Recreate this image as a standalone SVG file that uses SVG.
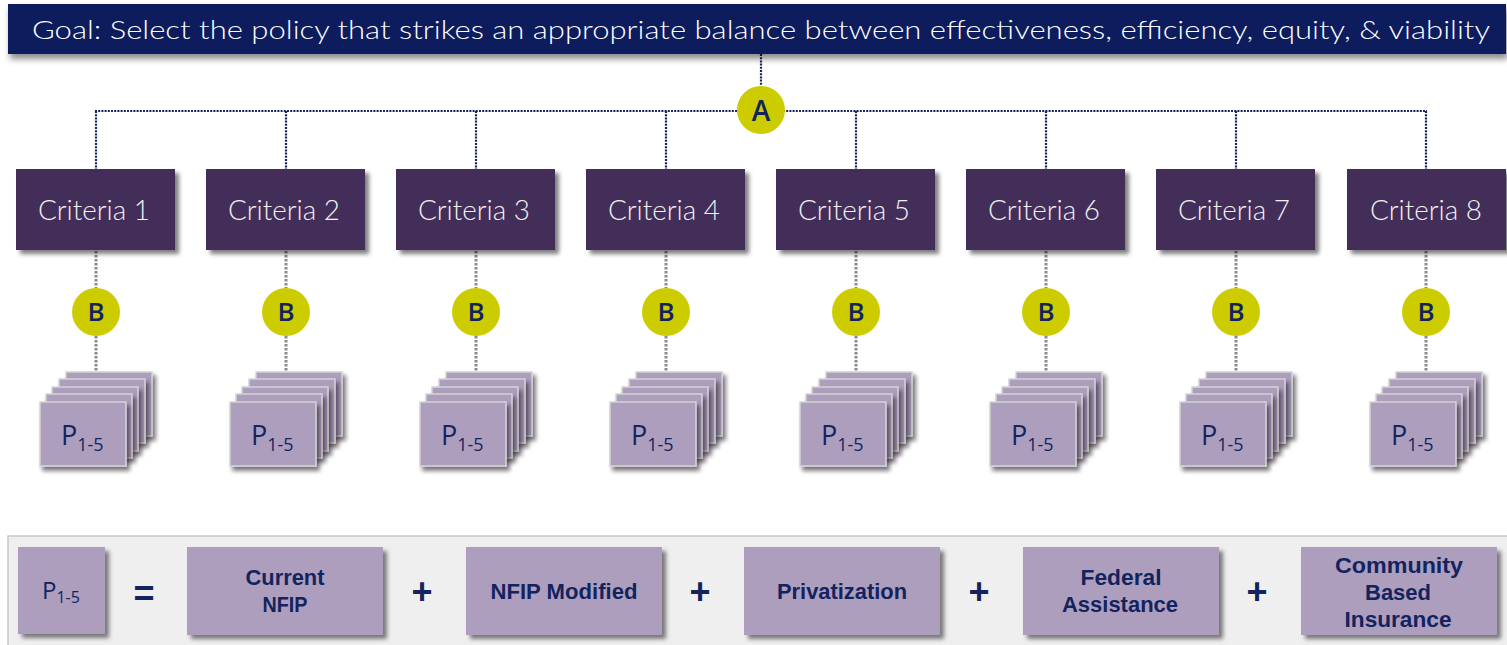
<svg xmlns="http://www.w3.org/2000/svg" width="1507" height="645" viewBox="0 0 1507 645">
  <defs>
    <filter id="shadow" x="-10%" y="-10%" width="130%" height="140%">
      <feDropShadow dx="4" dy="4" stdDeviation="2.2" flood-color="#000" flood-opacity="0.5"/>
    </filter>
    <filter id="shadowDown" x="-5%" y="-20%" width="110%" height="160%">
      <feDropShadow dx="2" dy="5" stdDeviation="3" flood-color="#000" flood-opacity="0.45"/>
    </filter>
    <filter id="cardShadow" x="-20%" y="-20%" width="150%" height="150%">
      <feDropShadow dx="3" dy="4" stdDeviation="2" flood-color="#1a1020" flood-opacity="0.6"/>
    </filter>
    <g id="card">
      <rect x="0" y="0" width="86" height="64" class="card" filter="url(#cardShadow)"/>
    </g>
  </defs>
  <style>
    .goal { fill: #0e1f5b; }
    .goaltxt { font-family: Lato, "Liberation Sans", Arial, sans-serif; font-weight: 300; font-size: 25px; fill: #ffffff; }
    .crit { fill: #432d58; }
    .crittxt { font-family: Lato, "Liberation Sans", Arial, sans-serif; font-weight: 300; font-size: 27px; fill: #f2f2f2; text-anchor: middle; }
    .dot { fill: #cccc00; }
    .dottxt { font-family: "Open Sans", "Liberation Sans", Arial, sans-serif; font-weight: 600; fill: #13235e; text-anchor: middle; }
    .card { fill: #ad9ebe; stroke: #d4d4d4; stroke-width: 1.5; }
    .ptxt { font-family: "Open Sans", "Liberation Sans", Arial, sans-serif; font-weight: 500; fill: #13235e; }
    .navyline { stroke: #13235e; stroke-width: 2.2; stroke-dasharray: 2 1.2; fill: none; }
    .grayline { stroke: #8a8a8a; stroke-width: 3; stroke-dasharray: 2.5 1.5; fill: none; }
    .panel { fill: #efefef; stroke: #c8c8c8; stroke-width: 1.5; }
    .opt { fill: #ad9ebe; }
    .opttxt { font-family: "Liberation Sans", Arial, sans-serif; font-weight: bold; font-size: 22px; fill: #13235e; text-anchor: middle; }
    .sym { font-family: "Liberation Sans", Arial, sans-serif; font-weight: bold; font-size: 36px; fill: #13235e; text-anchor: middle; }
  </style>

  <!-- connectors -->
  <g id="connectors">
    <line class="navyline" x1="761" y1="54" x2="761" y2="88"/>
    <line class="navyline" x1="95" y1="111" x2="1427" y2="111"/>
    <line class="navyline" x1="96" y1="111" x2="96" y2="169"/>
    <line class="navyline" x1="286" y1="111" x2="286" y2="169"/>
    <line class="navyline" x1="476" y1="111" x2="476" y2="169"/>
    <line class="navyline" x1="666" y1="111" x2="666" y2="169"/>
    <line class="navyline" x1="856" y1="111" x2="856" y2="169"/>
    <line class="navyline" x1="1046" y1="111" x2="1046" y2="169"/>
    <line class="navyline" x1="1236" y1="111" x2="1236" y2="169"/>
    <line class="navyline" x1="1426" y1="111" x2="1426" y2="169"/>
    <g id="gray-links">
      <path class="grayline" d="M96 251V288M96 336V371"/>
      <path class="grayline" d="M286 251V288M286 336V371"/>
      <path class="grayline" d="M476 251V288M476 336V371"/>
      <path class="grayline" d="M666 251V288M666 336V371"/>
      <path class="grayline" d="M856 251V288M856 336V371"/>
      <path class="grayline" d="M1046 251V288M1046 336V371"/>
      <path class="grayline" d="M1236 251V288M1236 336V371"/>
      <path class="grayline" d="M1426 251V288M1426 336V371"/>
    </g>
  </g>

  <!-- goal banner -->
  <g id="goal">
    <rect class="goal" x="8" y="4" width="1498" height="50" filter="url(#shadowDown)"/>
    <text class="goaltxt" x="32" y="39" textLength="1458" lengthAdjust="spacingAndGlyphs">Goal: Select the policy that strikes an appropriate balance between effectiveness, efficiency, equity, &amp; viability</text>
  </g>

  <!-- A junction -->
  <g id="node-A">
    <circle class="dot" cx="761" cy="110" r="24"/>
    <text class="dottxt" x="761" y="121" font-size="28">A</text>
  </g>

  <!-- criteria -->
  <g id="criteria-1"><rect class="crit" x="16" y="169" width="159" height="81" filter="url(#shadow)"/><text class="crittxt" x="94" y="220" textLength="112" lengthAdjust="spacingAndGlyphs">Criteria 1</text></g>
  <g id="criteria-2"><rect class="crit" x="206" y="169" width="159" height="81" filter="url(#shadow)"/><text class="crittxt" x="284" y="220" textLength="112" lengthAdjust="spacingAndGlyphs">Criteria 2</text></g>
  <g id="criteria-3"><rect class="crit" x="396" y="169" width="159" height="81" filter="url(#shadow)"/><text class="crittxt" x="474" y="220" textLength="112" lengthAdjust="spacingAndGlyphs">Criteria 3</text></g>
  <g id="criteria-4"><rect class="crit" x="586" y="169" width="159" height="81" filter="url(#shadow)"/><text class="crittxt" x="664" y="220" textLength="112" lengthAdjust="spacingAndGlyphs">Criteria 4</text></g>
  <g id="criteria-5"><rect class="crit" x="776" y="169" width="159" height="81" filter="url(#shadow)"/><text class="crittxt" x="854" y="220" textLength="112" lengthAdjust="spacingAndGlyphs">Criteria 5</text></g>
  <g id="criteria-6"><rect class="crit" x="966" y="169" width="159" height="81" filter="url(#shadow)"/><text class="crittxt" x="1044" y="220" textLength="112" lengthAdjust="spacingAndGlyphs">Criteria 6</text></g>
  <g id="criteria-7"><rect class="crit" x="1156" y="169" width="159" height="81" filter="url(#shadow)"/><text class="crittxt" x="1234" y="220" textLength="112" lengthAdjust="spacingAndGlyphs">Criteria 7</text></g>
  <g id="criteria-8"><rect class="crit" x="1347" y="169" width="159" height="81" filter="url(#shadow)"/><text class="crittxt" x="1426" y="220" textLength="112" lengthAdjust="spacingAndGlyphs">Criteria 8</text></g>

  <!-- B junctions -->
  <g id="node-B1"><circle class="dot" cx="96" cy="312" r="24"/><text class="dottxt" x="96" y="321" font-size="26">B</text></g>
  <g id="node-B2"><circle class="dot" cx="286" cy="312" r="24"/><text class="dottxt" x="286" y="321" font-size="26">B</text></g>
  <g id="node-B3"><circle class="dot" cx="476" cy="312" r="24"/><text class="dottxt" x="476" y="321" font-size="26">B</text></g>
  <g id="node-B4"><circle class="dot" cx="666" cy="312" r="24"/><text class="dottxt" x="666" y="321" font-size="26">B</text></g>
  <g id="node-B5"><circle class="dot" cx="856" cy="312" r="24"/><text class="dottxt" x="856" y="321" font-size="26">B</text></g>
  <g id="node-B6"><circle class="dot" cx="1046" cy="312" r="24"/><text class="dottxt" x="1046" y="321" font-size="26">B</text></g>
  <g id="node-B7"><circle class="dot" cx="1236" cy="312" r="24"/><text class="dottxt" x="1236" y="321" font-size="26">B</text></g>
  <g id="node-B8"><circle class="dot" cx="1426" cy="312" r="24"/><text class="dottxt" x="1426" y="321" font-size="26">B</text></g>

  <!-- policy stacks: five cards each, back to front -->
  <g id="policies-1" transform="translate(40 402)">
    <use href="#card" x="26" y="-30"/><use href="#card" x="19" y="-23"/><use href="#card" x="12" y="-15"/><use href="#card" x="6" y="-8"/><use href="#card" x="0" y="0"/>
    <text class="ptxt" x="21" y="43" font-size="27">P<tspan font-size="18" dy="6">1-5</tspan></text>
  </g>
  <g id="policies-2" transform="translate(230 402)">
    <use href="#card" x="26" y="-30"/><use href="#card" x="19" y="-23"/><use href="#card" x="12" y="-15"/><use href="#card" x="6" y="-8"/><use href="#card" x="0" y="0"/>
    <text class="ptxt" x="21" y="43" font-size="27">P<tspan font-size="18" dy="6">1-5</tspan></text>
  </g>
  <g id="policies-3" transform="translate(420 402)">
    <use href="#card" x="26" y="-30"/><use href="#card" x="19" y="-23"/><use href="#card" x="12" y="-15"/><use href="#card" x="6" y="-8"/><use href="#card" x="0" y="0"/>
    <text class="ptxt" x="21" y="43" font-size="27">P<tspan font-size="18" dy="6">1-5</tspan></text>
  </g>
  <g id="policies-4" transform="translate(610 402)">
    <use href="#card" x="26" y="-30"/><use href="#card" x="19" y="-23"/><use href="#card" x="12" y="-15"/><use href="#card" x="6" y="-8"/><use href="#card" x="0" y="0"/>
    <text class="ptxt" x="21" y="43" font-size="27">P<tspan font-size="18" dy="6">1-5</tspan></text>
  </g>
  <g id="policies-5" transform="translate(800 402)">
    <use href="#card" x="26" y="-30"/><use href="#card" x="19" y="-23"/><use href="#card" x="12" y="-15"/><use href="#card" x="6" y="-8"/><use href="#card" x="0" y="0"/>
    <text class="ptxt" x="21" y="43" font-size="27">P<tspan font-size="18" dy="6">1-5</tspan></text>
  </g>
  <g id="policies-6" transform="translate(990 402)">
    <use href="#card" x="26" y="-30"/><use href="#card" x="19" y="-23"/><use href="#card" x="12" y="-15"/><use href="#card" x="6" y="-8"/><use href="#card" x="0" y="0"/>
    <text class="ptxt" x="21" y="43" font-size="27">P<tspan font-size="18" dy="6">1-5</tspan></text>
  </g>
  <g id="policies-7" transform="translate(1180 402)">
    <use href="#card" x="26" y="-30"/><use href="#card" x="19" y="-23"/><use href="#card" x="12" y="-15"/><use href="#card" x="6" y="-8"/><use href="#card" x="0" y="0"/>
    <text class="ptxt" x="21" y="43" font-size="27">P<tspan font-size="18" dy="6">1-5</tspan></text>
  </g>
  <g id="policies-8" transform="translate(1370 402)">
    <use href="#card" x="26" y="-30"/><use href="#card" x="19" y="-23"/><use href="#card" x="12" y="-15"/><use href="#card" x="6" y="-8"/><use href="#card" x="0" y="0"/>
    <text class="ptxt" x="21" y="43" font-size="27">P<tspan font-size="18" dy="6">1-5</tspan></text>
  </g>

  <!-- legend: what P1-5 stands for -->
  <g id="legend">
    <rect class="panel" x="8" y="536" width="1505" height="115"/>
    <g id="legend-p">
      <rect class="opt" x="18" y="547" width="87" height="87" filter="url(#shadow)"/>
      <text class="ptxt" x="42" y="599" font-size="24">P<tspan font-size="16" dy="4">1-5</tspan></text>
    </g>
    <text class="sym" x="144" y="606">=</text>
    <g id="opt-current">
      <rect class="opt" x="187" y="547" width="196" height="88" filter="url(#shadow)"/>
      <text class="opttxt" x="285" y="585" textLength="79" lengthAdjust="spacingAndGlyphs">Current</text>
      <text class="opttxt" x="285" y="612" textLength="45" lengthAdjust="spacingAndGlyphs">NFIP</text>
    </g>
    <text class="sym" x="422" y="604">+</text>
    <g id="opt-modified">
      <rect class="opt" x="466" y="547" width="196" height="88" filter="url(#shadow)"/>
      <text class="opttxt" x="564" y="599" textLength="147" lengthAdjust="spacingAndGlyphs">NFIP Modified</text>
    </g>
    <text class="sym" x="700" y="604">+</text>
    <g id="opt-private">
      <rect class="opt" x="744" y="547" width="196" height="88" filter="url(#shadow)"/>
      <text class="opttxt" x="842" y="599" textLength="130" lengthAdjust="spacingAndGlyphs">Privatization</text>
    </g>
    <text class="sym" x="979" y="604">+</text>
    <g id="opt-federal">
      <rect class="opt" x="1023" y="547" width="196" height="88" filter="url(#shadow)"/>
      <text class="opttxt" x="1121" y="585" textLength="81" lengthAdjust="spacingAndGlyphs">Federal</text>
      <text class="opttxt" x="1120" y="612" textLength="116" lengthAdjust="spacingAndGlyphs">Assistance</text>
    </g>
    <text class="sym" x="1257" y="604">+</text>
    <g id="opt-community">
      <rect class="opt" x="1301" y="547" width="196" height="88" filter="url(#shadow)"/>
      <text class="opttxt" x="1399" y="573" textLength="128" lengthAdjust="spacingAndGlyphs">Community</text>
      <text class="opttxt" x="1398" y="600" textLength="66" lengthAdjust="spacingAndGlyphs">Based</text>
      <text class="opttxt" x="1398" y="627" textLength="107" lengthAdjust="spacingAndGlyphs">Insurance</text>
    </g>
  </g>
</svg>
